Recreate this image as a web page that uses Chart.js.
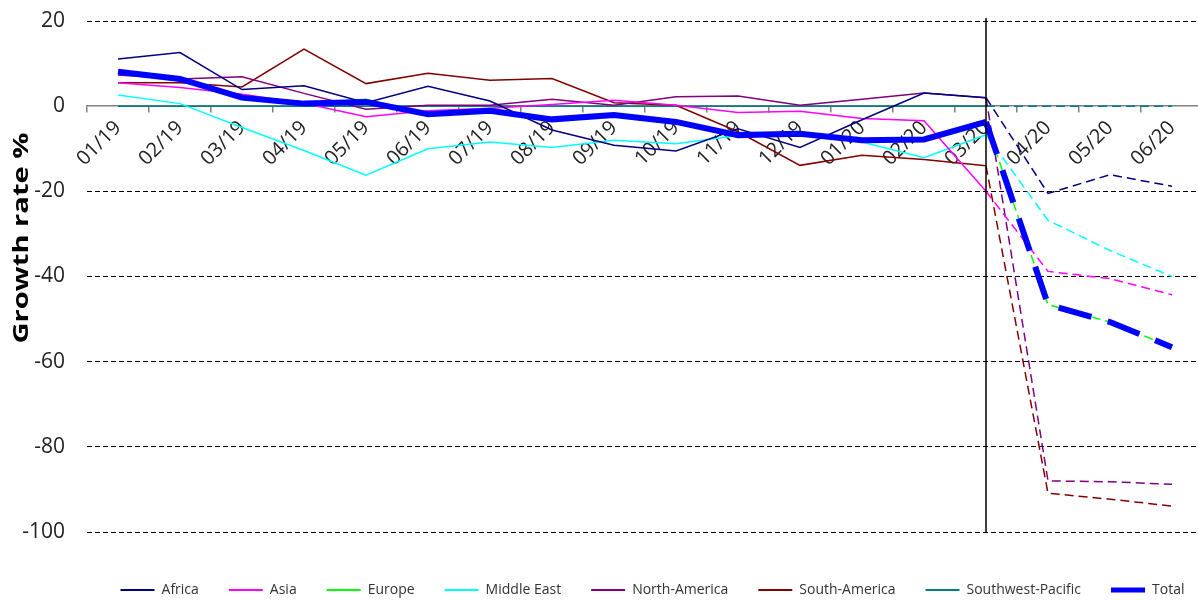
<!DOCTYPE html>
<html><head><meta charset="utf-8">
<script src="https://cdn.jsdelivr.net/npm/chart.js@4.4.0/dist/chart.umd.min.js"></script>
<style>html,body{margin:0;padding:0;background:#fff;overflow:hidden}#wrap{width:1203px;height:600px;position:relative}</style>
</head><body><div id="wrap"><canvas id="c"></canvas></div>
<script>
const months = ['01/19','02/19','03/19','04/19','05/19','06/19','07/19','08/19','09/19','10/19','11/19','12/19','01/20','02/20','03/20','04/20','05/20','06/20'];
const forecastFrom = '03/20';
const africa       = [11.1, 12.6, 3.9, 4.8, 0.8, 4.7, 1.2, -5.6, -9.2, -10.5, -5.3, -9.7, -3.2, 3.1, 2.0, -20.5, -16.1, -18.8];
const asia         = [5.5, 4.4, 2.8, 0.7, -2.5, -1.1, -0.5, 0.4, 1.4, 0.2, -1.5, -1.2, -2.9, -3.4, -20.0, -38.8, -40.5, -44.3];
const europe       = [8.0, 6.3, 2.1, 0.6, 1.6, -1.8, -1.0, -3.0, -2.0, -3.6, -6.7, -6.4, -8.4, -7.9, -3.8, -46.6, -50.7, -56.6];
const middleEast   = [2.6, 0.6, -5.0, -10.4, -16.2, -10.0, -8.4, -9.7, -8.0, -8.8, -6.9, -6.5, -8.4, -12.1, -6.7, -26.8, -33.9, -40.0];
const northAmerica = [7.3, 6.4, 6.9, 3.0, -0.7, 0.2, 0.2, 1.6, 0.2, 2.2, 2.4, 0.2, 1.6, 3.1, 2.0, -88.0, -88.2, -88.8];
const southAmerica = [5.5, 5.5, 4.5, 13.4, 5.3, 7.7, 6.1, 6.5, 0.8, 0.2, -6.0, -13.9, -11.5, -12.5, -14.0, -90.9, -92.3, -93.9];
const swPacific    = [0, 0, 0, 0, 0, 0, 0, 0, 0, 0, 0, 0, 0, 0, 0, 0, 0, 0];
const total        = [8.1, 6.4, 2.0, 0.6, 1.0, -1.9, -1.1, -3.1, -2.1, -3.7, -6.8, -6.5, -8.0, -7.8, -3.7, -46.6, -50.7, -56.6];
const yMin = -100, yMax = 20, yStep = 20;
const yTitle = 'Growth rate %';

const fIdx = months.indexOf(forecastFrom);
function mk(label, data, color, width, dash, order) {
  return {
    label, data, borderColor: color, backgroundColor: color, borderWidth: width,
    pointRadius: 0, pointHoverRadius: 0, pointStyle: 'line', pointBorderWidth: width === 6 ? 5 : 2,
    tension: 0, fill: false, order: order || 0,
    segment: { borderDash: ctx => ctx.p0DataIndex >= fIdx ? dash : undefined }
  };
}
const thin = [9, 5], thick = [34, 17];
const datasets = [
  mk('Africa', africa, '#000080', 1.5, thin),
  mk('Asia', asia, '#FF00FF', 1.5, thin),
  mk('Europe', europe, '#00FF00', 1.5, thin),
  mk('Middle East', middleEast, '#00FFFF', 1.5, thin),
  mk('North-America', northAmerica, '#800080', 1.5, thin),
  mk('South-America', southAmerica, '#800000', 1.5, thin),
  mk('Southwest-Pacific', swPacific, '#008080', 1.5, thin),
  mk('Total', total, '#0000FF', 6, thick, -1)
];

const vLine = {
  id: 'vLine',
  afterDatasetsDraw(chart) {
    const x = chart.scales.x.getPixelForValue(fIdx);
    const a = chart.chartArea, ctx = chart.ctx;
    ctx.save();
    ctx.strokeStyle = '#000'; ctx.lineWidth = 1.5;
    ctx.beginPath(); ctx.moveTo(x, a.top - 3); ctx.lineTo(x, a.bottom); ctx.stroke();
    ctx.restore();
  }
};
const legendShift = {
  id: 'legendShift',
  afterLayout(chart) {
    const l = chart.legend;
    if (l) { l.left += 51; l.right += 51; }
  }
};
const yTitlePlugin = {
  id: 'yTitle',
  afterDraw(chart) {
    const ctx = chart.ctx;
    ctx.save();
    ctx.font = 'bold 22px "Open Sans"';
    ctx.fillStyle = '#000';
    ctx.translate(22, 238);
    ctx.rotate(-Math.PI / 2);
    const w = ctx.measureText(yTitle).width;
    ctx.scale(211 / w, 1);
    ctx.textAlign = 'center'; ctx.textBaseline = 'middle';
    ctx.fillText(yTitle, 0, 0);
    ctx.restore();
  }
};

new Chart(document.getElementById('c'), {
  type: 'line',
  data: { labels: months, datasets },
  options: {
    responsive: true, maintainAspectRatio: false, animation: false,
    layout: { padding: { top: 21, right: 0, bottom: -7, left: 0 } },
    plugins: {
      legend: {
        position: 'bottom', fullSize: true,
        title: { display: true, text: '', font: { size: 10 }, padding: { top: 0, bottom: 9 } },
        labels: { usePointStyle: true, pointStyle: 'line', pointStyleWidth: 34, boxHeight: 13,
          font: { family: 'Open Sans', size: 14 }, color: '#333', padding: 30,
          sort: (a, b) => a.datasetIndex - b.datasetIndex }
      },
      tooltip: { enabled: false }
    },
    scales: {
      x: {
        type: 'category', position: { y: 0 }, offset: true,
        afterFit: s => { s.paddingLeft = 0; s.paddingRight = 0; s.paddingTop = 0; s.paddingBottom = 0; },
        grid: { drawOnChartArea: false, drawTicks: true, tickLength: 6, color: '#808080', offset: true, lineWidth: 1.5 },
        border: { display: true, color: '#808080', width: 1.5 },
        ticks: { maxRotation: 45, minRotation: 45, autoSkip: false, padding: 4,
          font: { family: 'Open Sans', size: 20 }, color: '#222' }
      },
      y: {
        min: yMin, max: yMax,
        afterFit: s => { s.width = 87; s.paddingTop = 0; s.paddingBottom = 0; },
        grid: { color: c => c.tick && c.tick.value === 0 ? 'rgba(0,0,0,0)' : '#000', lineWidth: 1, drawTicks: false },
        border: { display: false, dash: [5, 3] },
        ticks: { stepSize: yStep, padding: 22, font: { family: 'Open Sans', size: 21 }, color: '#222' }
      }
    }
  },
  plugins: [vLine, yTitlePlugin, legendShift]
});
</script>
</body></html>
